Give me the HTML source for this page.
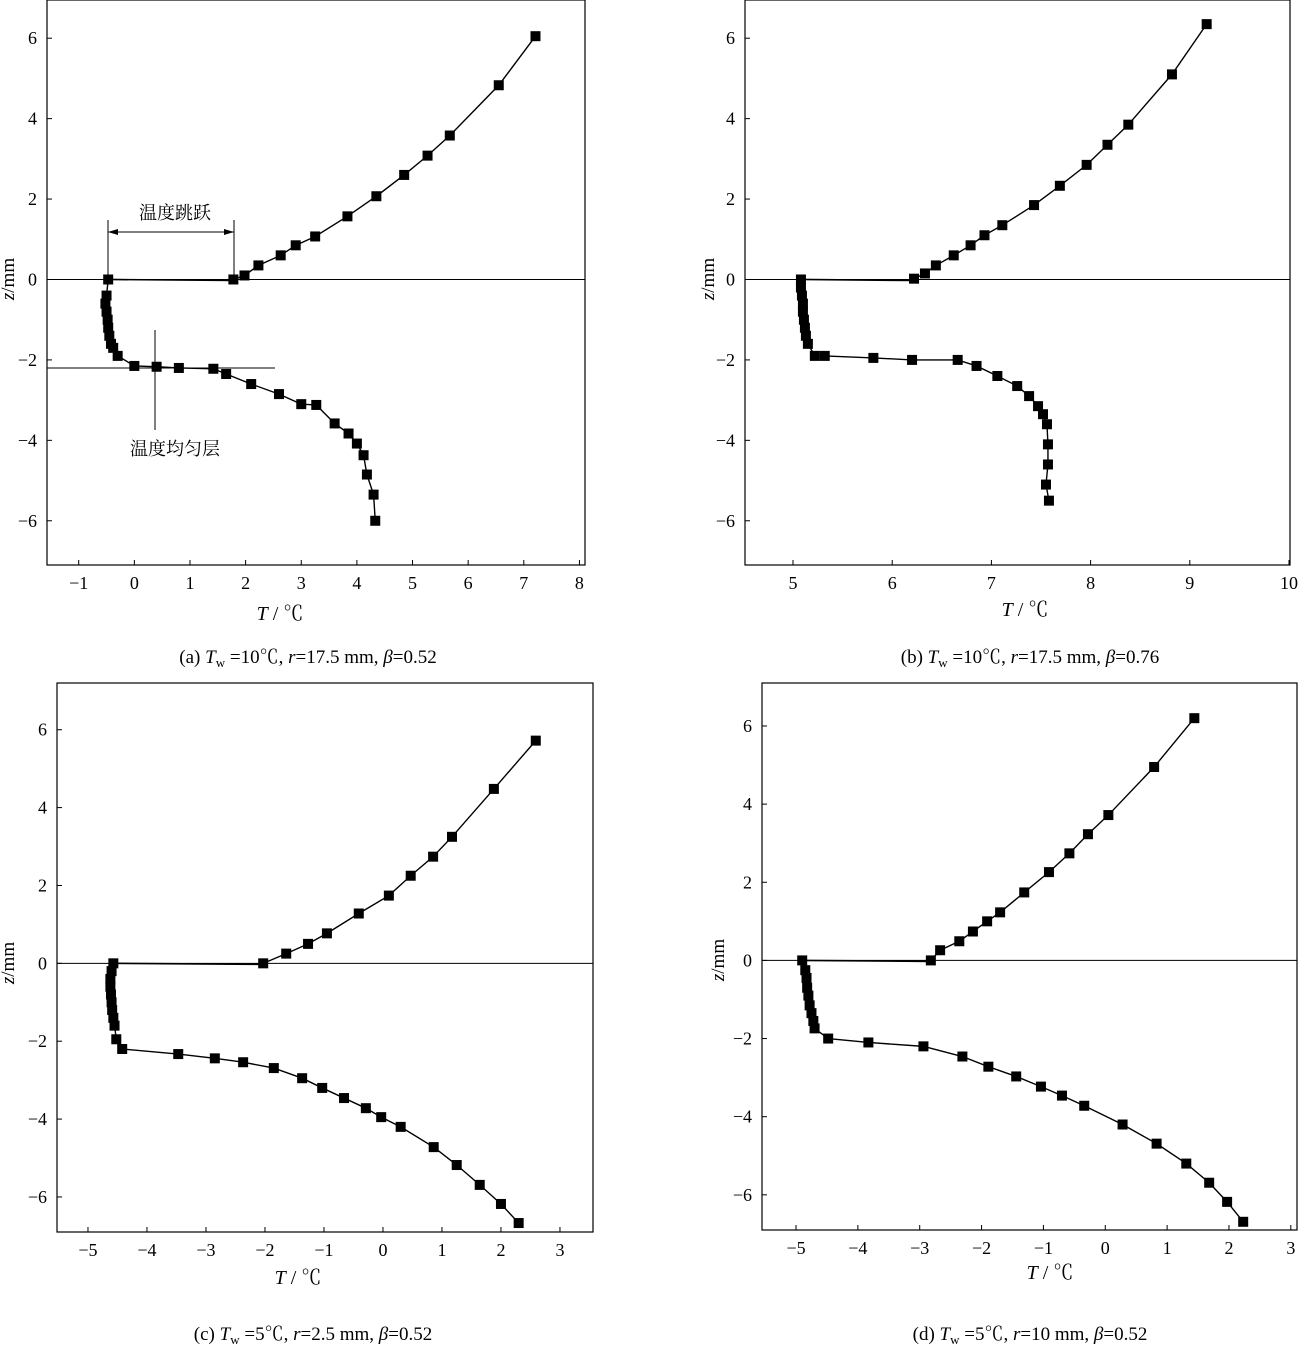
<!DOCTYPE html>
<html><head><meta charset="utf-8"><style>
body{margin:0;background:#fff;}
svg{display:block;font-family:"Liberation Serif","Noto Serif CJK SC",serif;}
</style></head><body>
<svg id="fig" width="1302" height="1368" viewBox="0 0 1302 1368" xmlns="http://www.w3.org/2000/svg"></svg>
<script>
// ---- data (T in °C, z in mm) ----
const aUpperT=[1.78,1.98,2.23,2.63,2.9,3.25,3.83,4.35,4.85,5.27,5.67,6.55,7.21];
const aUpperZ=[0,0.1,0.35,0.6,0.85,1.07,1.57,2.07,2.6,3.08,3.58,4.83,6.05];
const aLowerT=[-0.47,-0.5,-0.52,-0.5,-0.48,-0.47,-0.45,-0.42,-0.38,-0.3,0,0.4,0.8,1.42,1.65,2.1,2.6,3.0,3.27,3.6,3.85,4.0,4.12,4.18,4.3,4.33];
const aLowerZ=[0,-0.4,-0.6,-0.8,-1.0,-1.2,-1.4,-1.6,-1.7,-1.9,-2.15,-2.17,-2.2,-2.22,-2.35,-2.6,-2.85,-3.1,-3.12,-3.58,-3.83,-4.08,-4.37,-4.85,-5.35,-6.0];
const bUpperT=[6.22,6.33,6.44,6.62,6.79,6.93,7.11,7.43,7.69,7.96,8.17,8.38,8.82,9.17];
const bUpperZ=[0.02,0.15,0.35,0.6,0.85,1.1,1.35,1.85,2.33,2.85,3.35,3.85,5.1,6.35];
const bLowerT=[5.08,5.08,5.09,5.1,5.1,5.11,5.12,5.13,5.15,5.22,5.32,5.81,6.2,6.66,6.85,7.06,7.26,7.38,7.47,7.52,7.56,7.57,7.57,7.55,7.58];
const bLowerZ=[0,-0.2,-0.4,-0.6,-0.8,-1.0,-1.2,-1.4,-1.6,-1.9,-1.9,-1.95,-2.0,-2.0,-2.15,-2.4,-2.65,-2.9,-3.15,-3.35,-3.6,-4.1,-4.6,-5.1,-5.5];
const cUpperT=[-2.03,-1.64,-1.27,-0.95,-0.41,0.1,0.47,0.85,1.17,1.88,2.59];
const cUpperZ=[0,0.25,0.5,0.77,1.28,1.74,2.25,2.74,3.25,4.48,5.72];
const cLowerT=[-4.57,-4.6,-4.62,-4.62,-4.61,-4.6,-4.59,-4.57,-4.55,-4.52,-4.42,-3.47,-2.85,-2.37,-1.85,-1.37,-1.03,-0.66,-0.29,-0.03,0.3,0.86,1.25,1.64,2.0,2.3];
const cLowerZ=[0,-0.2,-0.4,-0.6,-0.8,-1.0,-1.2,-1.4,-1.6,-1.95,-2.2,-2.33,-2.44,-2.54,-2.69,-2.95,-3.2,-3.46,-3.72,-3.95,-4.2,-4.72,-5.18,-5.69,-6.18,-6.67];
const dUpperT=[-2.82,-2.67,-2.36,-2.14,-1.91,-1.7,-1.31,-0.91,-0.58,-0.28,0.05,0.79,1.44];
const dUpperZ=[0,0.26,0.49,0.74,1.0,1.23,1.74,2.26,2.74,3.23,3.72,4.95,6.2];
const dLowerT=[-4.9,-4.85,-4.83,-4.82,-4.8,-4.78,-4.75,-4.72,-4.7,-4.48,-3.83,-2.94,-2.31,-1.89,-1.44,-1.04,-0.7,-0.34,0.28,0.83,1.31,1.68,1.97,2.23];
const dLowerZ=[0,-0.25,-0.45,-0.7,-0.9,-1.15,-1.35,-1.55,-1.74,-2.0,-2.1,-2.2,-2.46,-2.72,-2.97,-3.23,-3.46,-3.72,-4.2,-4.69,-5.2,-5.69,-6.18,-6.69];
const aXTicks=[-1,0,1,2,3,4,5,6,7,8];
const bXTicks=[5,6,7,8,9,10];
const cdXTicks=[-5,-4,-3,-2,-1,0,1,2,3];
const zTicks=[-6,-4,-2,0,2,4,6];

const NS="http://www.w3.org/2000/svg";
const svg=document.getElementById('fig');
function el(tag,attrs,parent,text){const e=document.createElementNS(NS,tag);for(const k in attrs)e.setAttribute(k,attrs[k]);if(text!==undefined)e.textContent=text;(parent||svg).appendChild(e);return e;}
function fmt(v){return v<0?'\u2212'+(-v):String(v);}

const panels=[
 {id:'a',box:[47,0,585,565],x:[-1.57,8.1],y:[-7.1,6.95],xt:aXTicks,up:[aUpperT,aUpperZ],lo:[aLowerT,aLowerZ],xl:[280,620],zl:[14,279],cap:[308,663]},
 {id:'b',box:[745,0,1290,565],x:[4.516,10.01],y:[-7.1,6.95],xt:bXTicks,up:[bUpperT,bUpperZ],lo:[bLowerT,bLowerZ],xl:[1025,616],zl:[714,279],cap:[1030,663]},
 {id:'c',box:[57,683,593,1232],x:[-5.525,3.56],y:[-6.9,7.2],xt:cdXTicks,up:[cUpperT,cUpperZ],lo:[cLowerT,cLowerZ],xl:[298,1284],zl:[14,963],cap:[313,1340]},
 {id:'d',box:[762,683,1297,1230],x:[-5.55,3.1],y:[-6.9,7.1],xt:cdXTicks,up:[dUpperT,dUpperZ],lo:[dLowerT,dLowerZ],xl:[1050,1279],zl:[724,960],cap:[1030,1340]}
];
const caps={a:['(a)','10℃','17.5 mm','0.52'],b:['(b)','10℃','17.5 mm','0.76'],c:['(c)','5℃','2.5 mm','0.52'],d:['(d)','5℃','10 mm','0.52']};

panels.forEach(p=>{
 const [x0,y0,x1,y1]=p.box;
 const sx=v=>x0+(v-p.x[0])/(p.x[1]-p.x[0])*(x1-x0);
 const sy=v=>y1-(v-p.y[0])/(p.y[1]-p.y[0])*(y1-y0);
 const g=el('g',{});
 
 
 const fr=el('rect',{x:x0,y:y0,width:x1-x0,height:y1-y0,fill:'none',stroke:'#000','stroke-width':1.2},g);
 
 
 const zl=el('line',{x1:x0,x2:x1,y1:sy(0),y2:sy(0),stroke:'#000','stroke-width':1},g);
 
 
 p.xt.forEach(t=>{const X=sx(t);
  el('line',{x1:X,x2:X,y1:y1,y2:y1-5,stroke:'#000'},g);
  const tx=el('text',{x:X,y:y1+24,'font-size':18,'text-anchor':'middle'},g,fmt(t));
  
  });
 zTicks.forEach(t=>{const Y=sy(t);
  el('line',{x1:x0,x2:x0+5,y1:Y,y2:Y,stroke:'#000'},g);
  const tx=el('text',{x:x0-10,y:Y+6,'font-size':18,'text-anchor':'end'},g,fmt(t));
  
  });
 [p.up,p.lo].forEach((s,si)=>{
  const pts=s[0].map((t,i)=>sx(t)+','+sy(s[1][i])).join(' ');
  const pl=el('polyline',{points:pts,fill:'none',stroke:'#000','stroke-width':1.4},g);
  
  
  s[0].forEach((t,i)=>{const m=el('rect',{x:sx(t)-5,y:sy(s[1][i])-5,width:10,height:10,fill:'#000'},g);
   
   });
 });
 const cl=el('line',{x1:sx(p.lo[0][0]),y1:sy(0),x2:sx(p.up[0][0]),y2:sy(0)+1,stroke:'#000','stroke-width':1.6},g);
 
 
 const xl=el('text',{x:p.xl[0],y:p.xl[1],'font-size':20,'text-anchor':'middle'},g);
 
 
 el('tspan',{'font-style':'italic'},xl,'T');el('tspan',{},xl,' / ℃');
 const zt=el('text',{x:p.zl[0],y:p.zl[1],'font-size':19,'text-anchor':'middle',transform:`rotate(-90 ${p.zl[0]} ${p.zl[1]})`},g);
 
 
 el('tspan',{'font-style':'italic'},zt,'z');el('tspan',{},zt,'/mm');
 const c=caps[p.id];
 const ct=el('text',{x:p.cap[0],y:p.cap[1],'font-size':19,'text-anchor':'middle'},g);
 
 
 el('tspan',{},ct,c[0]+'  ');el('tspan',{'font-style':'italic'},ct,'T');el('tspan',{'font-size':13,dy:4},ct,'w');
 el('tspan',{dy:-4},ct,' ='+c[1]+', ');el('tspan',{'font-style':'italic'},ct,'r');el('tspan',{},ct,'='+c[2]+', ');
 el('tspan',{'font-style':'italic'},ct,'β');el('tspan',{},ct,'='+c[3]);
});

const ann=el('g',{});


el('line',{x1:108,x2:108,y1:220,y2:277,stroke:'#000'},ann);
el('line',{x1:234,x2:234,y1:220,y2:277,stroke:'#000'},ann);
el('line',{x1:108,x2:234,y1:232,y2:232,stroke:'#000'},ann);
el('path',{d:'M108,232 l10,-3 v6 z M234,232 l-10,-3 v6 z',fill:'#000'},ann);
const t1=el('text',{x:175,y:219,'font-size':18,'text-anchor':'middle'},ann,'温度跳跃');


el('line',{x1:47,x2:275,y1:368,y2:368,stroke:'#000'},ann);
el('line',{x1:155,x2:155,y1:330,y2:430,stroke:'#000'},ann);
const t2=el('text',{x:175,y:455,'font-size':18,'text-anchor':'middle'},ann,'温度均匀层');


</script>
</body></html>
